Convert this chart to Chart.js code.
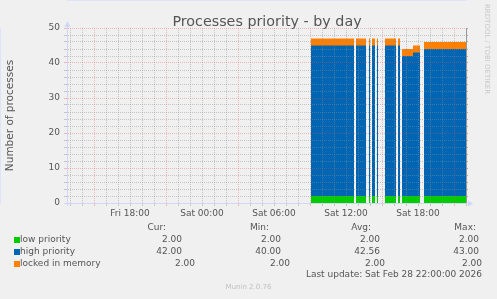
<!DOCTYPE html>
<html>
<head>
<meta charset="utf-8">
<title>Processes priority - by day</title>
<script src="https://cdn.jsdelivr.net/npm/chart.js@4/dist/chart.umd.min.js"></script>
<style>
  html, body { margin: 0; padding: 0; background: #f0f0f0; }
  #wrap { position: relative; width: 497px; height: 299px; overflow: hidden;
          font-family: 'DejaVu Sans', sans-serif; color: #555; }
  #chart { position: absolute; left: 0; top: 0; }
  #title { position: absolute; left: 67px; width: 400px; top: 13px; text-align: center;
           font-size: 14.3px; line-height: 16px; white-space: nowrap; }
  .txt { position: absolute; font-size: 9px; line-height: 12px; white-space: nowrap; }
  .sw { position: absolute; width: 6px; height: 6px; }
  #vendor { position: absolute; left: 482px; top: 4px; writing-mode: vertical-rl;
            font-size: 7px; line-height: 9px; color: #c8c8c8; white-space: nowrap; }
  #version { position: absolute; left: 0; width: 497px; top: 282px; text-align: center;
             font-size: 7px; line-height: 10px; color: #c0c0c0; }
</style>
</head>
<body>
<div id="wrap">
  <canvas id="chart" width="497" height="299"></canvas>
  <div id="title">Processes priority - by day</div>
  <div id="legend"></div>
  <div id="vendor">RRDTOOL / TOBI OETIKER</div>
  <div id="version">Munin 2.0.76</div>
</div>
<script>
// Sample times (Saturday, HH:MM), null values mark gaps without data
const times = ['09:05', '12:40', '12:45', '12:50', '13:40', '13:45', '13:55', '14:00', '14:05',
  '14:10', '14:25', '14:30', '14:35', '14:40', '14:45', '15:15', '16:10', '16:15', '16:20',
  '16:30', '16:35', '16:40', '17:35', '18:00', '18:10', '18:20', '18:30', '22:00'];
const lowPriority = [2, 2, null, 2, 2, null, 2, 2, null, 2, 2, null, 2, 2, null, 2, 2, null,
  2, 2, null, 2, 2, 2, 2, null, 2, 2];
const highPriority = [43, 43, null, 43, 43, null, 43, 43, null, 43, 43, null, 43, 43, null,
  43, 43, null, 43, 43, null, 43, 40, 41, 41, null, 42, 42];
const lockedInMemory = [2, 2, null, 2, 2, null, 2, 2, null, 2, 2, null, 2, 2, null, 2, 2, null,
  2, 2, null, 2, 2, 2, 2, null, 2, 2];

const seriesNames = ['low priority', 'high priority', 'locked in memory'];
const seriesColors = ['#00cc00', '#0066b3', '#ff8000'];

// x axis labels, hours relative to Sat 00:00
const tickHours = [-6, 0, 6, 12, 18];
const tickLabels = ['Fri 18:00', 'Sat 00:00', 'Sat 06:00', 'Sat 12:00', 'Sat 18:00'];

// legend values
const curValues = ['2.00', '42.00', '2.00'];
const minValues = ['2.00', '40.00', '2.00'];
const avgValues = ['2.00', '42.56', '2.00'];
const maxValues = ['2.00', '43.00', '2.00'];
const lastUpdate = 'Last update: Sat Feb 28 22:00:00 2026';

const AXIS_COLOR = '#cfd6f8';
const GRID_COLOR = 'rgba(143, 143, 143, 0.45)';
const MGRID_COLOR = 'rgba(222, 79, 79, 0.35)';
const FONT_COLOR = '#555';

function toHours(hhmm) {
  const parts = hhmm.split(':');
  return Number(parts[0]) + Number(parts[1]) / 60;
}

function points(values) {
  return times.map((t, i) => ({ x: toHours(t), y: values[i] }));
}

const seriesValues = [lowPriority, highPriority, lockedInMemory];

// Axis arrows like rrdtool
const axisArrows = {
  id: 'axisArrows',
  afterDraw(chart) {
    const { ctx, chartArea: a } = chart;
    ctx.save();
    ctx.strokeStyle = AXIS_COLOR;
    ctx.fillStyle = AXIS_COLOR;
    ctx.lineWidth = 1;
    ctx.beginPath();
    ctx.moveTo(a.left - 3, a.bottom + 0.5);
    ctx.lineTo(a.right + 4, a.bottom + 0.5);
    ctx.moveTo(a.left + 0.5, a.bottom + 3);
    ctx.lineTo(a.left + 0.5, a.top - 3);
    ctx.stroke();
    ctx.beginPath();
    ctx.moveTo(a.right + 2, a.bottom - 2.5);
    ctx.lineTo(a.right + 7, a.bottom + 0.5);
    ctx.lineTo(a.right + 2, a.bottom + 3.5);
    ctx.closePath();
    ctx.fill();
    ctx.beginPath();
    ctx.moveTo(a.left - 2.5, a.top - 1);
    ctx.lineTo(a.left + 0.5, a.top - 7);
    ctx.lineTo(a.left + 3.5, a.top - 1);
    ctx.closePath();
    ctx.fill();
    ctx.restore();
  }
};

Chart.defaults.font.family = "'DejaVu Sans', sans-serif";
Chart.defaults.color = FONT_COLOR;

const hourTicks = [];
for (let h = -11; h <= 22; h++) hourTicks.push({ value: h });

const isMajorHour = v => ((v % 6) + 6) % 6 === 3;

new Chart(document.getElementById('chart'), {
  type: 'line',
  data: {
    datasets: seriesNames.map((name, i) => ({
      label: name,
      data: points(seriesValues[i]),
      backgroundColor: seriesColors[i],
      borderColor: 'rgba(0,0,0,0)',
      borderWidth: 0,
      pointRadius: 0,
      stepped: 'after',
      spanGaps: false,
      fill: 'origin'
    }))
  },
  plugins: [axisArrows],
  options: {
    responsive: false,
    animation: false,
    layout: { padding: { left: 0, right: 0, top: 28, bottom: 76 } },
    plugins: {
      legend: { display: false },
      tooltip: { enabled: false },
      title: { display: false }
    },
    scales: {
      x: {
        type: 'linear',
        min: -11.25,
        max: 22,
        afterBuildTicks: axis => { axis.ticks = hourTicks.map(t => ({ value: t.value })); },
        afterFit: scale => { scale.height = 20; },
        ticks: {
          autoSkip: false,
          maxRotation: 0,
          minRotation: 0,
          padding: 2,
          font: { size: 9 },
          callback: value => {
            const idx = tickHours.indexOf(value);
            return idx >= 0 ? tickLabels[idx] : '';
          }
        },
        grid: {
          z: 1,
          color: ctx => isMajorHour(ctx.tick.value) ? MGRID_COLOR : GRID_COLOR,
          tickColor: ctx => isMajorHour(ctx.tick.value) ? MGRID_COLOR : GRID_COLOR,
          tickLength: 3,
          tickBorderDash: []
        },
        border: { color: AXIS_COLOR, dash: [1, 1] }
      },
      y: {
        stacked: true,
        min: 0,
        max: 50,
        afterFit: scale => { scale.width = 67; },
        ticks: {
          stepSize: 2,
          autoSkip: false,
          padding: 4,
          font: { size: 9 },
          callback: value => value % 10 === 0 ? String(value) : ''
        },
        title: {
          display: true,
          text: 'Number of processes',
          color: FONT_COLOR,
          font: { size: 10.5 },
          padding: { top: 4, bottom: 0 }
        },
        grid: {
          z: 1,
          color: ctx => ctx.tick.value % 10 === 0 ? MGRID_COLOR : GRID_COLOR,
          tickColor: ctx => ctx.tick.value % 10 === 0 ? MGRID_COLOR : GRID_COLOR,
          tickLength: 3,
          tickBorderDash: []
        },
        border: { color: AXIS_COLOR, dash: [1, 1] }
      },
      y2: {
        position: 'right',
        min: 0,
        max: 50,
        afterFit: scale => { scale.width = 31; },
        ticks: { stepSize: 2, autoSkip: false, display: false },
        grid: { drawOnChartArea: false, tickLength: 2, tickColor: '#aaa' },
        border: { color: '#999' }
      }
    }
  }
});

// Legend table below the graph
const legend = document.getElementById('legend');
const headers = ['Cur:', 'Min:', 'Avg:', 'Max:'];
const headerEnds = [166, 269, 371, 476];
const rowEnds = [[182, 281, 380, 479], [182, 281, 380, 479], [195, 290, 385, 482]];
const rowTops = [233, 245, 256.5];

function addText(text, top, left, rightEnd) {
  const d = document.createElement('div');
  d.className = 'txt';
  d.textContent = text;
  d.style.top = top + 'px';
  if (rightEnd !== undefined) {
    d.style.right = (497 - rightEnd) + 'px';
    d.style.textAlign = 'right';
  } else {
    d.style.left = left + 'px';
  }
  legend.appendChild(d);
}

headers.forEach((h, i) => addText(h, 221, null, headerEnds[i]));
seriesNames.forEach((name, i) => {
  const sw = document.createElement('div');
  sw.className = 'sw';
  sw.style.background = seriesColors[i];
  sw.style.left = '14px';
  sw.style.top = (rowTops[i] + 4) + 'px';
  legend.appendChild(sw);
  addText(name, rowTops[i], 20);
  [curValues[i], minValues[i], avgValues[i], maxValues[i]].forEach((v, j) => {
    addText(v, rowTops[i], null, rowEnds[i][j]);
  });
});
addText(lastUpdate, 268, null, 482);
</script>
</body>
</html>
